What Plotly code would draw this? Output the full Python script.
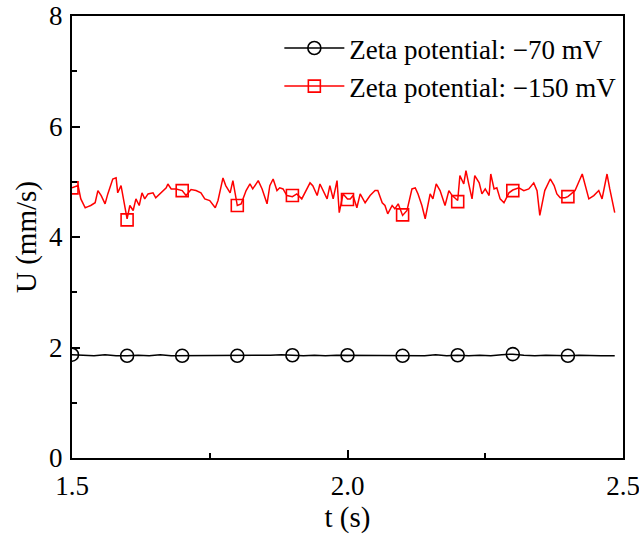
import plotly.graph_objects as go

# Red series (-150 mV): time (s) and velocity (mm/s)
t_red = [1.500, 1.511, 1.516, 1.524, 1.529, 1.534, 1.542, 1.547, 1.553, 1.560, 1.565, 1.574, 1.580, 1.583,
         1.589, 1.593, 1.600, 1.605, 1.611, 1.616, 1.622, 1.627, 1.632, 1.638, 1.647, 1.652, 1.662, 1.671,
         1.674, 1.680, 1.689, 1.700, 1.707, 1.716, 1.725, 1.734, 1.741, 1.750, 1.760, 1.765, 1.774, 1.779,
         1.787, 1.792, 1.800, 1.807, 1.816, 1.823, 1.828, 1.838, 1.845, 1.854, 1.859, 1.865, 1.872, 1.877,
         1.883, 1.890, 1.900, 1.908, 1.917, 1.926, 1.932, 1.937, 1.945, 1.950, 1.956, 1.963, 1.968, 1.974,
         1.981, 1.985, 1.992, 2.000, 2.005, 2.010, 2.017, 2.023, 2.032, 2.041, 2.050, 2.055, 2.063, 2.068,
         2.073, 2.081, 2.086, 2.092, 2.100, 2.108, 2.117, 2.123, 2.128, 2.135, 2.141, 2.150, 2.155, 2.161,
         2.168, 2.177, 2.184, 2.190, 2.200, 2.204, 2.211, 2.215, 2.220, 2.226, 2.231, 2.239, 2.244, 2.250,
         2.257, 2.260, 2.266, 2.271, 2.277, 2.284, 2.293, 2.300, 2.311, 2.320, 2.329, 2.338, 2.344, 2.349,
         2.358, 2.368, 2.375, 2.380, 2.386, 2.395, 2.400, 2.413, 2.426, 2.431, 2.438, 2.447, 2.456, 2.462,
         2.471, 2.476, 2.485]
u_red = [4.89, 4.93, 4.69, 4.53, 4.55, 4.57, 4.62, 4.84, 4.75, 4.60, 4.78, 5.05, 5.07, 4.80,
         4.93, 4.71, 4.33, 4.57, 4.48, 4.69, 4.57, 4.80, 4.69, 4.78, 4.80, 4.71, 4.80, 4.89,
         4.96, 4.87, 4.87, 4.84, 4.75, 4.86, 4.84, 4.80, 4.69, 4.66, 4.53, 4.66, 5.07, 4.93,
         4.80, 5.02, 4.57, 4.60, 4.84, 4.96, 4.87, 5.02, 4.87, 4.60, 4.93, 5.05, 4.84, 4.89,
         4.87, 4.75, 4.73, 4.78, 4.69, 4.87, 4.98, 4.93, 4.75, 4.96, 4.84, 4.69, 4.93, 4.69,
         5.02, 4.44, 4.78, 4.69, 4.69, 4.75, 4.53, 4.78, 4.62, 4.75, 4.84, 4.84, 4.62, 4.57,
         4.42, 4.57, 4.51, 4.60, 4.39, 4.48, 4.87, 4.89, 4.78, 4.57, 4.33, 4.78, 4.69, 4.96,
         4.84, 4.57, 4.84, 4.75, 4.66, 5.11, 4.96, 5.20, 4.96, 4.69, 5.11, 4.98, 4.78, 4.87,
         4.75, 5.14, 4.87, 4.89, 4.69, 4.62, 4.80, 4.85, 4.89, 4.84, 4.87, 4.98, 4.84, 4.39,
         4.84, 5.05, 4.93, 4.78, 4.71, 4.71, 4.73, 4.84, 5.14, 4.96, 4.69, 4.75, 4.84, 4.69,
         5.14, 4.87, 4.44]

# Black series (-70 mV)
t_black = [1.500, 1.520, 1.540, 1.560, 1.580, 1.600, 1.620, 1.640, 1.660, 1.680, 1.700, 1.720, 1.740,
           1.760, 1.780, 1.800, 1.820, 1.840, 1.860, 1.880, 1.900, 1.920, 1.940, 1.960, 1.980, 2.000,
           2.020, 2.040, 2.060, 2.080, 2.100, 2.120, 2.140, 2.160, 2.180, 2.200, 2.220, 2.240, 2.260,
           2.280, 2.300, 2.320, 2.340, 2.360, 2.380, 2.400, 2.420, 2.440, 2.460, 2.485]
u_black = [1.87, 1.86, 1.85, 1.87, 1.85, 1.85, 1.86, 1.85, 1.87, 1.85, 1.85, 1.86, 1.85,
           1.86, 1.85, 1.85, 1.86, 1.85, 1.86, 1.87, 1.86, 1.85, 1.86, 1.85, 1.86, 1.86,
           1.85, 1.86, 1.85, 1.86, 1.85, 1.86, 1.85, 1.87, 1.85, 1.86, 1.85, 1.86, 1.85,
           1.87, 1.88, 1.86, 1.85, 1.86, 1.85, 1.85, 1.86, 1.85, 1.85, 1.85]

# Marker positions (every 0.1 s)
t_mark = [1.5, 1.6, 1.7, 1.8, 1.9, 2.0, 2.1, 2.2, 2.3, 2.4]
u_mark_red = [4.89, 4.31, 4.84, 4.57, 4.75, 4.68, 4.40, 4.64, 4.84, 4.73]
u_mark_black = [1.87, 1.85, 1.85, 1.85, 1.86, 1.86, 1.85, 1.86, 1.88, 1.85]

labels = ["Zeta potential: \u221270 mV", "Zeta potential: \u2212150 mV"]

FONT = "Liberation Serif"
FS_TICK = 27
FS_LEG = 27
FS_TITLE = 29
fig = go.Figure()

# black
fig.add_trace(go.Scatter(x=t_black, y=u_black, mode="lines",
                         line=dict(color="black", width=1.5), showlegend=False, hoverinfo="skip"))
fig.add_trace(go.Scatter(x=t_mark, y=u_mark_black, mode="markers",
                         marker=dict(symbol="circle-open", size=13, color="black", line=dict(width=1.6)),
                         showlegend=False))
# red
fig.add_trace(go.Scatter(x=t_red, y=u_red, mode="lines",
                         line=dict(color="#ff0000", width=1.5), showlegend=False, hoverinfo="skip"))
fig.add_trace(go.Scatter(x=t_mark, y=u_mark_red, mode="markers",
                         marker=dict(symbol="square-open", size=12, color="#ff0000", line=dict(width=1.6)),
                         showlegend=False))
# legend entries
fig.add_trace(go.Scatter(x=[None], y=[None], mode="lines+markers", name=labels[0],
                         line=dict(color="black", width=1.5),
                         marker=dict(symbol="circle-open", size=13, color="black", line=dict(width=1.6))))
fig.add_trace(go.Scatter(x=[None], y=[None], mode="lines+markers", name=labels[1],
                         line=dict(color="#ff0000", width=1.5),
                         marker=dict(symbol="square-open", size=12, color="#ff0000", line=dict(width=1.6))))

axis_common = dict(showline=True, linecolor="black", linewidth=2, mirror=True,
                   ticks="inside", ticklen=8, tickwidth=1.5, tickcolor="black",
                   showgrid=False, zeroline=False, automargin=False,
                   tickfont=dict(family=FONT, size=FS_TICK, color="black"))

fig.update_xaxes(range=[1.5, 2.5], dtick=0.5, tick0=1.5, tickformat=".1f",
                 ticklabelstandoff=3, ticklabeloverflow="allow",
                 minor=dict(dtick=0.25, ticks="inside", ticklen=5, tickwidth=1.5, tickcolor="black"),
                 title=dict(text="t (s)", font=dict(family=FONT, size=FS_TITLE, color="black"), standoff=2),
                 **axis_common)
fig.update_yaxes(range=[0, 8], dtick=2, tick0=0,
                 ticklabelstandoff=2, ticklabeloverflow="allow",
                 minor=dict(dtick=1, ticks="inside", ticklen=5, tickwidth=1.5, tickcolor="black"),
                 title=dict(text="U (mm/s)", font=dict(family=FONT, size=FS_TITLE, color="black"), standoff=4),
                 **axis_common)

fig.update_layout(
    width=639, height=537,
    margin=dict(l=72, r=16, t=16, b=79, autoexpand=False),
    paper_bgcolor="white", plot_bgcolor="white",
    font=dict(family=FONT, size=FS_TICK, color="black"),
    legend=dict(x=0.997, y=0.982, xanchor="right", yanchor="top",
                bgcolor="rgba(0,0,0,0)", borderwidth=0,
                font=dict(family=FONT, size=FS_LEG, color="black"),
                itemwidth=60, tracegroupgap=0),
)

fig.write_html("out.html")
